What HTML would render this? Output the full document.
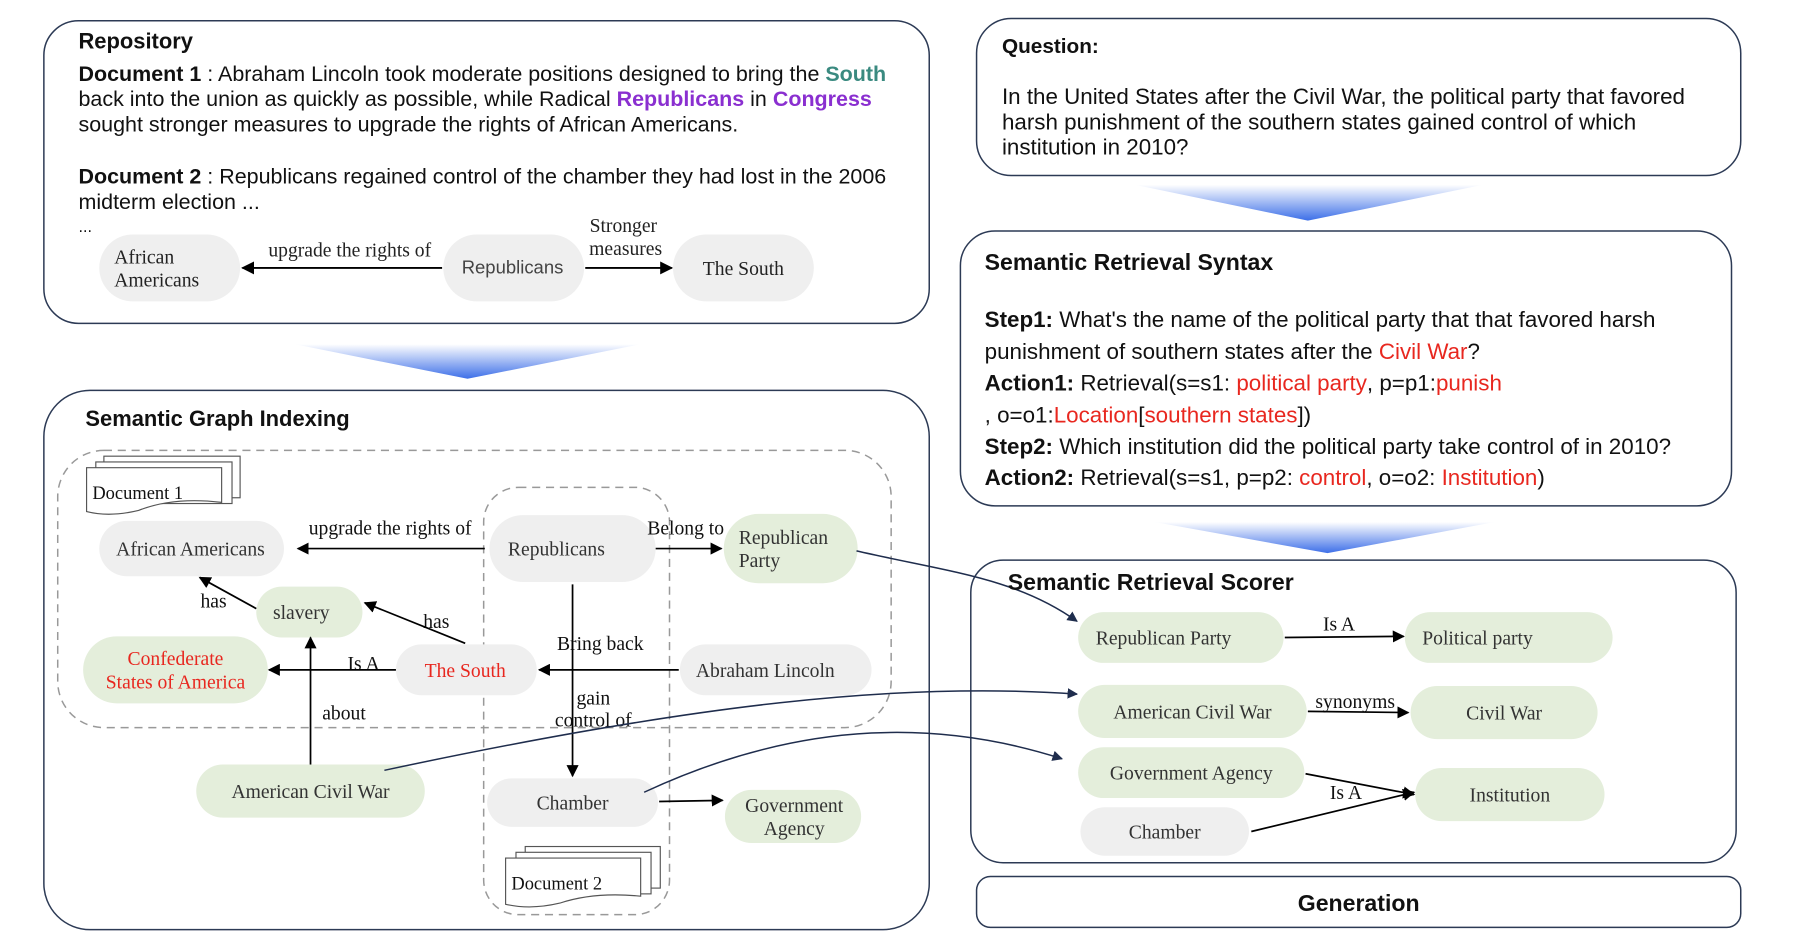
<!DOCTYPE html>
<html><head><meta charset="utf-8"><style>
html,body{margin:0;padding:0;background:#fff;}
svg{display:block;}
.s{font-family:"Liberation Sans",sans-serif;}
.r{font-family:"Liberation Serif",serif;}
</style></head><body>
<svg width="1810" height="947" viewBox="0 0 1568 820" preserveAspectRatio="none" xmlns="http://www.w3.org/2000/svg">
<defs>
<marker id="a" viewBox="0 0 10 10" refX="9" refY="5" markerWidth="7" markerHeight="7" orient="auto"><path d="M0,0L10,5L0,10z" fill="#000"/></marker>
<marker id="b" viewBox="0 0 10 10" refX="9" refY="5" markerWidth="7" markerHeight="7" orient="auto"><path d="M0,0L10,5L0,10z" fill="#1f2d4d"/></marker>
<linearGradient id="g" x1="0" y1="0" x2="0" y2="1"><stop offset="0" stop-color="#ffffff"/><stop offset="1" stop-color="#3d6fe8"/></linearGradient>
</defs>
<g fill="none" stroke="#2c3a55" stroke-width="1.3">
<rect x="38" y="18" width="767" height="262" rx="30"/>
<rect x="38" y="338" width="767" height="467" rx="40"/>
<rect x="846" y="16" width="662" height="136" rx="30"/>
<rect x="832" y="200" width="668" height="238" rx="30"/>
<rect x="841" y="485" width="663" height="262" rx="28"/>
<rect x="846" y="759" width="662" height="44" rx="12"/>
</g>
<path d="M255,298 L555,298 L405,328 Z" fill="url(#g)"/>
<path d="M983,160 L1285,160 L1133,191 Z" fill="url(#g)"/>
<path d="M1000,452 L1295,452 L1150,479 Z" fill="url(#g)"/>

<!-- Repository -->
<g class="s" font-size="18.6" fill="#111">
<text x="68" y="42" font-weight="bold" font-size="19">Repository</text>
<text x="68" y="70"><tspan font-weight="bold">Document 1</tspan> : Abraham Lincoln took moderate positions designed to bring the <tspan fill="#3a8a80" font-weight="bold">South</tspan></text>
<text x="68" y="92">back into the union as quickly as possible, while Radical <tspan fill="#8a2fd0" font-weight="bold">Republicans</tspan> in <tspan fill="#8a2fd0" font-weight="bold">Congress</tspan></text>
<text x="68" y="114">sought stronger measures to upgrade the rights of African Americans.</text>
<text x="68" y="159"><tspan font-weight="bold">Document 2</tspan> : Republicans regained control of the chamber they had lost in the 2006</text>
<text x="68" y="181">midterm election ...</text>
<text x="68" y="201" font-size="14">...</text>
</g>
<g fill="#efefef">
<rect x="86" y="203" width="122" height="58" rx="29"/>
<rect x="384" y="203" width="122" height="58" rx="29"/>
<rect x="583" y="203" width="122" height="58" rx="29"/>
</g>
<g class="r" font-size="17" fill="#222">
<text x="99" y="228">African</text><text x="99" y="248">Americans</text>
<text x="444" y="237" text-anchor="middle" class="s" font-size="16" fill="#444">Republicans</text>
<text x="644" y="238" text-anchor="middle">The South</text>
<text x="303" y="222" text-anchor="middle">upgrade the rights of</text>
<text x="540" y="201" text-anchor="middle">Stronger</text><text x="542" y="221" text-anchor="middle">measures</text>
</g>
<g stroke="#000" stroke-width="1.6" marker-end="url(#a)">
<line x1="383" y1="232" x2="210" y2="232"/>
<line x1="507" y1="232" x2="582" y2="232"/>
</g>

<!-- Semantic Graph Indexing -->
<text x="74" y="369" class="s" font-size="19" font-weight="bold" fill="#111">Semantic Graph Indexing</text>
<rect x="50" y="390" width="722" height="240" rx="40" fill="none" stroke="#999" stroke-width="1.3" stroke-dasharray="7,5"/>
<rect x="419" y="422" width="161" height="370" rx="30" fill="none" stroke="#999" stroke-width="1.3" stroke-dasharray="7,5"/>
<g fill="#fff" stroke="#555" stroke-width="1">
<rect x="90" y="395" width="118" height="36"/><rect x="83" y="400" width="118" height="36"/>
<path d="M75,405 H192 V435 Q150,430 120,442 Q95,448 75,443 Z"/>
<rect x="455" y="733" width="117" height="36"/><rect x="447" y="738" width="117" height="36"/>
<path d="M438,743 H555 V776 Q515,772 485,782 Q460,788 438,783 Z"/>
</g>
<g class="r" font-size="16" fill="#111">
<text x="80" y="432">Document 1</text>
<text x="443" y="770">Document 2</text>
</g>
<g>
<rect x="86" y="451" width="160" height="48" rx="24" fill="#efefef"/>
<rect x="424" y="446" width="144" height="58" rx="29" fill="#efefef"/>
<rect x="627" y="445" width="116" height="60" rx="30" fill="#e4eedb"/>
<rect x="222" y="508" width="92" height="44" rx="22" fill="#e4eedb"/>
<rect x="72" y="551" width="160" height="58" rx="29" fill="#e4eedb"/>
<rect x="343" y="558" width="122" height="44" rx="22" fill="#efefef"/>
<rect x="589" y="558" width="166" height="44" rx="22" fill="#efefef"/>
<rect x="170" y="662" width="198" height="46" rx="23" fill="#e4eedb"/>
<rect x="422" y="674" width="148" height="42" rx="21" fill="#efefef"/>
<rect x="628" y="684" width="118" height="46" rx="23" fill="#e4eedb"/>
</g>
<g class="r" font-size="17" fill="#333" text-anchor="middle">
<text x="165" y="481">African Americans</text>
<text x="482" y="481">Republicans</text>
<text x="640" y="471" text-anchor="start">Republican</text><text x="640" y="491" text-anchor="start">Party</text>
<text x="261" y="536">slavery</text>
<text x="152" y="576" fill="#e8271f">Confederate</text><text x="152" y="596" fill="#e8271f">States of America</text>
<text x="403" y="586" fill="#e8271f">The South</text>
<text x="663" y="586">Abraham Lincoln</text>
<text x="269" y="691">American Civil War</text>
<text x="496" y="701">Chamber</text>
<text x="688" y="703">Government</text><text x="688" y="723">Agency</text>
</g>
<g class="r" font-size="17" fill="#111" text-anchor="middle">
<text x="338" y="463">upgrade the rights of</text>
<text x="594" y="463">Belong to</text>
<text x="185" y="526">has</text>
<text x="378" y="544">has</text>
<text x="315" y="580">Is A</text>
<text x="520" y="563">Bring back</text>
<text x="514" y="610">gain</text><text x="514" y="629">control of</text>
<text x="298" y="623">about</text>
</g>
<g stroke="#000" stroke-width="1.5" marker-end="url(#a)" fill="none">
<line x1="420" y1="475" x2="258" y2="475"/>
<line x1="568" y1="475" x2="625" y2="475"/>
<line x1="496" y1="506" x2="496" y2="672"/>
<line x1="588" y1="580" x2="467" y2="580"/>
<line x1="403" y1="557" x2="316" y2="522"/>
<line x1="222" y1="527" x2="173" y2="500"/>
<line x1="343" y1="580" x2="233" y2="580"/>
<line x1="269" y1="662" x2="269" y2="552"/>
<line x1="571" y1="694" x2="626" y2="693"/>
</g>
<g stroke="#1f2d4d" stroke-width="1.3" fill="none" marker-end="url(#b)">
<path d="M742,477 C820,495 880,500 933,538"/>
<path d="M333,667 C600,610 780,590 933,601"/>
<path d="M558,686 C700,620 820,625 920,657"/>
</g>

<!-- Question -->
<g class="s" font-size="19.4" fill="#111">
<text x="868" y="46" font-weight="bold" font-size="18">Question:</text>
<text x="868" y="90">In the United States after the Civil War, the political party that favored</text>
<text x="868" y="112">harsh punishment of the southern states gained control of which</text>
<text x="868" y="134">institution in 2010?</text>
</g>
<!-- Syntax -->
<g class="s" font-size="19.4" fill="#111">
<text x="853" y="234" font-weight="bold" font-size="20">Semantic Retrieval Syntax</text>
<text x="853" y="283"><tspan font-weight="bold">Step1:</tspan> What's the name of the political party that that favored harsh</text>
<text x="853" y="311">punishment of southern states after the <tspan fill="#e8271f">Civil War</tspan>?</text>
<text x="853" y="338"><tspan font-weight="bold">Action1:</tspan> Retrieval(s=s1: <tspan fill="#e8271f">political party</tspan>, p=p1:<tspan fill="#e8271f">punish</tspan></text>
<text x="853" y="366">, o=o1:<tspan fill="#e8271f">Location</tspan>[<tspan fill="#e8271f">southern states</tspan>])</text>
<text x="853" y="393"><tspan font-weight="bold">Step2:</tspan> Which institution did the political party take control of in 2010?</text>
<text x="853" y="420"><tspan font-weight="bold">Action2:</tspan> Retrieval(s=s1, p=p2: <tspan fill="#e8271f">control</tspan>, o=o2: <tspan fill="#e8271f">Institution</tspan>)</text>
</g>
<!-- Scorer -->
<text x="873" y="511" class="s" font-size="20" font-weight="bold" fill="#111">Semantic Retrieval Scorer</text>
<g>
<rect x="934" y="530" width="178" height="44" rx="22" fill="#e4eedb"/>
<rect x="1217" y="530" width="180" height="44" rx="22" fill="#e4eedb"/>
<rect x="934" y="593" width="198" height="46" rx="23" fill="#e4eedb"/>
<rect x="1222" y="594" width="162" height="46" rx="23" fill="#e4eedb"/>
<rect x="934" y="647" width="196" height="44" rx="22" fill="#e4eedb"/>
<rect x="1226" y="665" width="164" height="46" rx="23" fill="#e4eedb"/>
<rect x="936" y="699" width="146" height="42" rx="21" fill="#efefef"/>
</g>
<g class="r" font-size="17" fill="#333" text-anchor="middle">
<text x="1008" y="558">Republican Party</text>
<text x="1280" y="558">Political party</text>
<text x="1033" y="622">American Civil War</text>
<text x="1303" y="623">Civil War</text>
<text x="1032" y="675">Government Agency</text>
<text x="1308" y="694">Institution</text>
<text x="1009" y="726">Chamber</text>
</g>
<g class="r" font-size="17" fill="#111" text-anchor="middle">
<text x="1160" y="546">Is A</text>
<text x="1174" y="613">synonyms</text>
<text x="1166" y="692">Is A</text>
</g>
<g stroke="#000" stroke-width="1.5" marker-end="url(#a)" fill="none">
<line x1="1113" y1="552" x2="1216" y2="551"/>
<line x1="1133" y1="616" x2="1220" y2="617"/>
<line x1="1131" y1="670" x2="1225" y2="688"/>
<line x1="1084" y1="720" x2="1225" y2="686"/>
</g>
<text x="1177" y="789" class="s" font-size="20" font-weight="bold" fill="#111" text-anchor="middle">Generation</text>
</svg>
</body></html>
